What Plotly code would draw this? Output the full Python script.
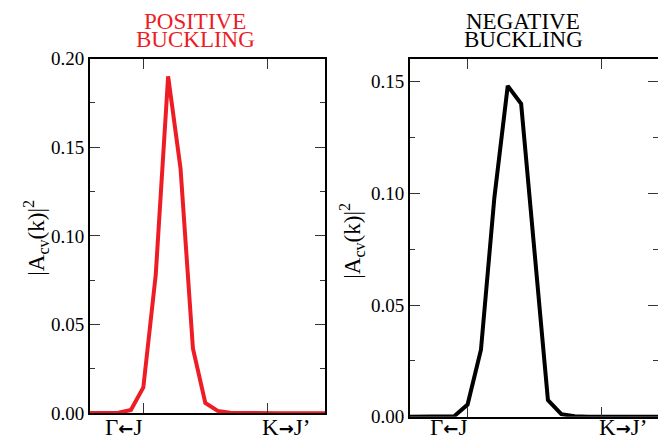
import plotly.graph_objects as go

# Momentum path sampled every 0.1 (J = 0, J' = 1)
k = [-0.5, -0.4, -0.3, -0.2, -0.1, 0.0, 0.1, 0.2, 0.3, 0.4, 0.5,
     0.6, 0.7, 0.8, 0.9, 1.0, 1.1, 1.2, 1.3, 1.4, 1.5]

# |A_cv(k)|^2 for the two buckling signs
a_positive = [0.0, 0.0, 0.0, 0.0002, 0.0018, 0.0145, 0.078, 0.190, 0.138,
              0.0365, 0.0058, 0.0013, 0.0003, 0.0001, 0.0, 0.0, 0.0, 0.0,
              0.0, 0.0, 0.0]
a_negative = [0.0, 0.0, 0.0, 0.0, 0.0003, 0.0055, 0.030, 0.098, 0.148,
              0.140, 0.074, 0.0075, 0.0012, 0.0003, 0.0, 0.0, 0.0, 0.0,
              0.0, 0.0, 0.0]

path_ticks = [0.0, 1.0]
ARROW_STYLE = "font-family:DejaVu Sans;font-weight:bold;font-size:18px"
left_label = "Γ" + f'<span style="{ARROW_STYLE}">←</span>' + "J"
right_label = "K" + f'<span style="{ARROW_STYLE}">→</span>' + "J’"
panel_titles = [("POSITIVE", "BUCKLING"), ("NEGATIVE", "BUCKLING")]
ytitle = "|A<sub>cv</sub>(k)|<sup>2</sup>"

RED = "#ee1c25"
BLACK = "#000000"
FONT = "Liberation Serif"
W, H = 658, 443
# vertical extent of the drawing surface in the rendered page
TOP, SPAN = 8.0, 426.0


def px_x(p):
    return p / W


def px_y(p):
    return 1 - (p - TOP) / SPAN


fig = go.Figure()
fig.add_trace(go.Scatter(x=k, y=a_positive, mode="lines",
                         line=dict(color=RED, width=4),
                         xaxis="x", yaxis="y", showlegend=False))
fig.add_trace(go.Scatter(x=k, y=a_negative, mode="lines",
                         line=dict(color=BLACK, width=4),
                         xaxis="x2", yaxis="y2", showlegend=False))
# empty trace so the right-hand tick axis of panel 2 is built
fig.add_trace(go.Scatter(x=[None], y=[None], mode="lines",
                         xaxis="x2", yaxis="y3", showlegend=False,
                         hoverinfo="skip"))

xcommon = dict(tickvals=path_ticks, showticklabels=False, ticks="inside",
               ticklen=10, tickwidth=1, tickcolor="#333",
               showline=True, linecolor=BLACK, linewidth=2,
               showgrid=False, zeroline=False, mirror="ticks")
ycommon = dict(ticks="inside", ticklen=10, tickwidth=1, tickcolor="#333",
               showline=True, linecolor=BLACK, linewidth=2,
               showgrid=False, zeroline=False, tickformat=".2f",
               tickfont=dict(family=FONT, size=19, color=BLACK),
               minor=dict(ticks="inside", ticklen=5, tickwidth=1,
                          tickcolor="#333", dtick=0.025))

fig.update_layout(
    width=W, height=H,
    margin=dict(l=0, r=0, t=0, b=0),
    paper_bgcolor="white", plot_bgcolor="white",
    xaxis=dict(domain=[px_x(90), px_x(325)], range=[-0.43, 1.465],
               anchor="y", **xcommon),
    yaxis=dict(domain=[px_y(415), px_y(57)], range=[0, 0.20], dtick=0.05,
               anchor="x", mirror="ticks", **ycommon),
    xaxis2=dict(domain=[px_x(410), 1.0], range=[-0.43, 1.422],
                anchor="y2", **xcommon),
    yaxis2=dict(domain=[px_y(418.7), px_y(57)], range=[0, 0.1602],
                dtick=0.05, anchor="x2", mirror=False, **ycommon),
    yaxis3=dict(overlaying="y2", side="right", anchor="x2",
                range=[0, 0.1602], dtick=0.05, showticklabels=False,
                ticks="inside", ticklen=10, tickwidth=1, tickcolor="#333",
                showline=False, showgrid=False, zeroline=False,
                minor=dict(ticks="inside", ticklen=5, tickwidth=1,
                           tickcolor="#333", dtick=0.025)),
)

annotations = []
# panel titles, two tight lines each (boxes kept to the cap height)
for (line1, line2), cx, color in zip(panel_titles, [195, 523], [RED, BLACK]):
    for text, cy in ((line1, 19.5), (line2, 38.2)):
        annotations.append(dict(text=text, x=px_x(cx), y=px_y(cy),
                                xref="paper", yref="paper",
                                xanchor="center", yanchor="middle",
                                height=19, showarrow=False,
                                font=dict(family=FONT, size=23, color=color)))
# path labels below the bottom axes
for xr, shift in (("x", -7), ("x2", -4)):
    annotations.append(dict(text=left_label, x=path_ticks[0], y=px_y(429.5),
                            xref=xr, yref="paper", xanchor="right",
                            yanchor="middle", xshift=1, showarrow=False,
                            font=dict(family=FONT, size=23, color=BLACK)))
    annotations.append(dict(text=right_label, x=path_ticks[1], y=px_y(429.5),
                            xref=xr, yref="paper", xanchor="left",
                            yanchor="middle", xshift=shift, showarrow=False,
                            font=dict(family=FONT, size=23, color=BLACK)))
# rotated y titles
for cx, cy in ((36, 238), (352, 241)):
    annotations.append(dict(text=ytitle, x=px_x(cx), y=px_y(cy),
                            xref="paper", yref="paper", xanchor="center",
                            yanchor="middle", textangle=-90, showarrow=False,
                            font=dict(family=FONT, size=23, color=BLACK)))
fig.update_layout(annotations=annotations)

fig.write_html("out.html")
